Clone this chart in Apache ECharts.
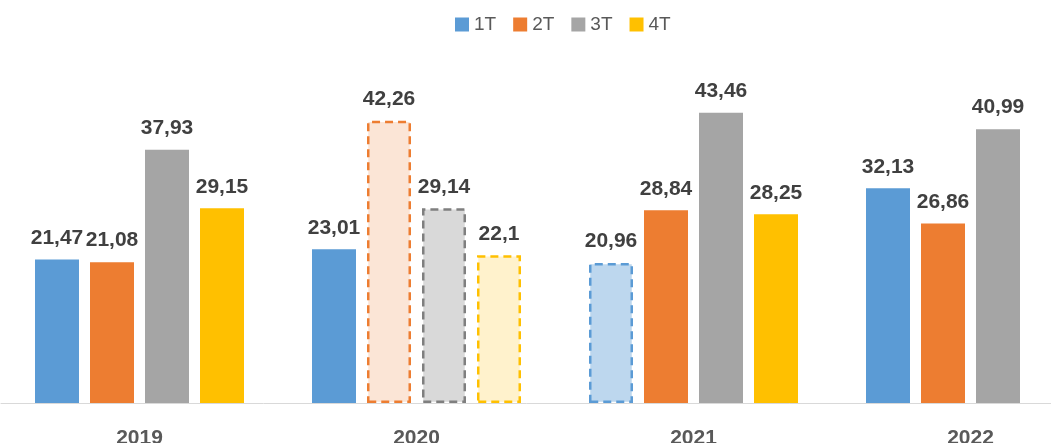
<!DOCTYPE html>
<html>
<head>
<meta charset="utf-8">
<script src="https://cdn.jsdelivr.net/npm/echarts@6/dist/echarts.min.js"></script>
<style>
  html, body { margin: 0; padding: 0; background: #fff; }
  #chart { width: 1051px; height: 443px; }
</style>
</head>
<body>
<div id="chart"></div>
<script>
var years = ['2019', '2020', '2021', '2022'];
var seriesNames = ['1T', '2T', '3T', '4T'];
var v1T = [21.47, 23.01, 20.96, 32.13];
var v2T = [21.08, 42.26, 28.84, 26.86];
var v3T = [37.93, 29.14, 43.46, 40.99];
var v4T = [29.15, 22.1, 28.25, null];
// bars drawn dashed with light fill
var dashed1T = [false, false, true, false];
var dashed2T = [false, true, false, false];
var dashed3T = [false, true, false, false];
var dashed4T = [false, true, false, false];

var colors = ['#5B9BD5', '#ED7D31', '#A5A5A5', '#FFC000'];
var lightColors = ['#BDD7EE', '#FBE5D6', '#D9D9D9', '#FFF2CC'];
var dashColors = ['#5B9BD5', '#ED7D31', '#7F7F7F', '#FFC000'];

var font = "'Liberation Sans', Arial, sans-serif";

var values = [v1T, v2T, v3T, v4T];
var dashed = [dashed1T, dashed2T, dashed3T, dashed4T];

build_series = (i) => {
    var data = values[i].map((v, j) => {
        if (v == null) return null;
        if (!dashed[i][j]) return v;
        return {
            value: v,
            itemStyle: {
                color: lightColors[i],
                borderColor: dashColors[i],
                borderWidth: 2.5,
                borderType: [8, 5]
            }
        };
    });
    return {
        name: seriesNames[i],
        type: 'bar',
        data: data,
        barWidth: 44,
        barGap: '25%',
        itemStyle: { color: colors[i] },
        label: {
            show: true,
            position: 'top',
            distance: 11,
            color: '#404040',
            fontWeight: 'bold',
            fontSize: 21,
            fontFamily: font,
            formatter: (p) => String(p.value).replace('.', ',')
        }
    };
}

var chart = echarts.init(document.getElementById('chart'));
chart.setOption({
    animation: false,
    legend: {
        top: 10,
        left: 450,
        itemWidth: 14,
        itemHeight: 14,
        itemGap: 17,
        icon: 'rect',
        textStyle: { color: '#595959', fontSize: 19, fontFamily: font },
        data: seriesNames
    },
    // the plot runs past the right edge (last group has only three bars)
    grid: { left: 1, width: 1108, top: 69, bottom: 40, outerBoundsMode: 'none', containLabel: false },
    xAxis: {
        type: 'category',
        data: years,
        axisLine: { lineStyle: { color: '#D9D9D9', width: 1 } },
        axisTick: { show: false },
        axisLabel: {
            margin: 25,
            color: '#595959',
            fontWeight: 'bold',
            fontSize: 21,
            fontFamily: font
        }
    },
    yAxis: {
        type: 'value',
        min: 0,
        max: 50,
        show: false
    },
    series: [0, 1, 2, 3].map(build_series)
});
</script>
</body>
</html>
